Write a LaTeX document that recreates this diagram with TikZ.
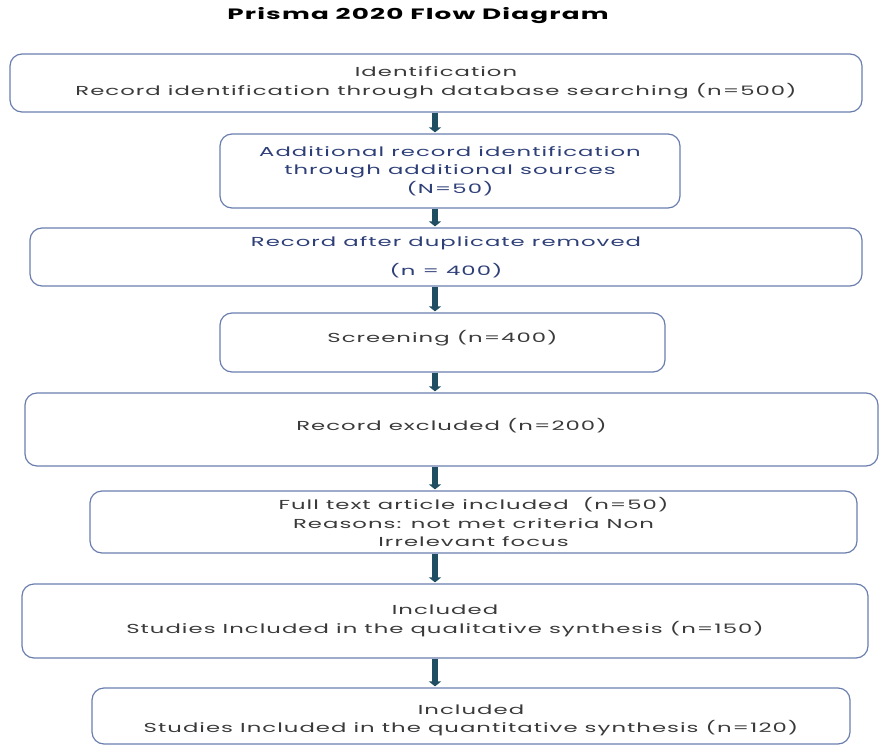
\documentclass[tikz,border=0pt]{standalone}
\usepackage{fontspec}
\setmainfont{Poppins}[FakeStretch=1.75,LetterSpace=8]
\usetikzlibrary{arrows.meta,positioning}
\definecolor{boxline}{HTML}{6A7EAE}
\definecolor{flowcol}{HTML}{1F4E63}
\definecolor{navytext}{HTML}{2E3F78}
\definecolor{greytext}{HTML}{3A3A3A}

\begin{document}
\begin{tikzpicture}[x=1pt,y=-1pt]

	\tikzstyle{stage}=[draw=boxline,line width=1.2pt,rounded corners=12pt,align=center,font=\fontsize{13}{18.5}\selectfont,text=greytext,inner sep=0pt]
	\tikzstyle{flow}=[draw=flowcol,line width=6pt,-{Triangle[length=5pt,width=12pt]},shorten >=1pt]

	\useasboundingbox (0,0) rectangle (880,746);

	\node (title) at (418,16) [font=\bfseries\fontsize{15}{18}\selectfont] {Prisma 2020 Flow Diagram};

	\node [stage] (1) at (436,83)    [minimum width=852pt,minimum height=58pt] {Identification\\Record identification through database searching (n=500)};
	\node [stage] (2) at (450,171)   [minimum width=460pt,minimum height=74pt,text=navytext] {Additional record identification\\through additional sources\\(N=50)};
	\node [stage] (3) at (446,257)   [minimum width=832pt,minimum height=58pt,text=navytext] {Record after duplicate removed\\[11pt](n = 400)};
	\node [stage] (4) at (442.5,342.5) [minimum width=445pt,minimum height=59pt,text depth=13pt] {Screening (n=400)};
	\node [stage] (5) at (451.5,429.5) [minimum width=853pt,minimum height=73pt,text depth=11pt] {Record excluded (n=200)};
	\node [stage] (6) at (473.5,522) [minimum width=767pt,minimum height=62pt] {Full text article included~~(n=50)\\Reasons: not met criteria Non\\Irrelevant focus};
	\node [stage] (7) at (445,621)   [minimum width=846pt,minimum height=74pt] {Included\\Studies Included in the qualitative synthesis (n=150)};
	\node [stage] (8) at (471,716)   [minimum width=758pt,minimum height=56pt] {\rule{0pt}{18pt}Included\\Studies Included in the quantitative synthesis (n=120)};

	\coordinate (spine) at (435,0);

	\foreach \a/\b in {1/2,2/3,3/4,4/5,5/6,6/7,7/8}
		\draw [flow] (\a.south -| spine) -- (\b.north -| spine);

\end{tikzpicture}
\end{document}
